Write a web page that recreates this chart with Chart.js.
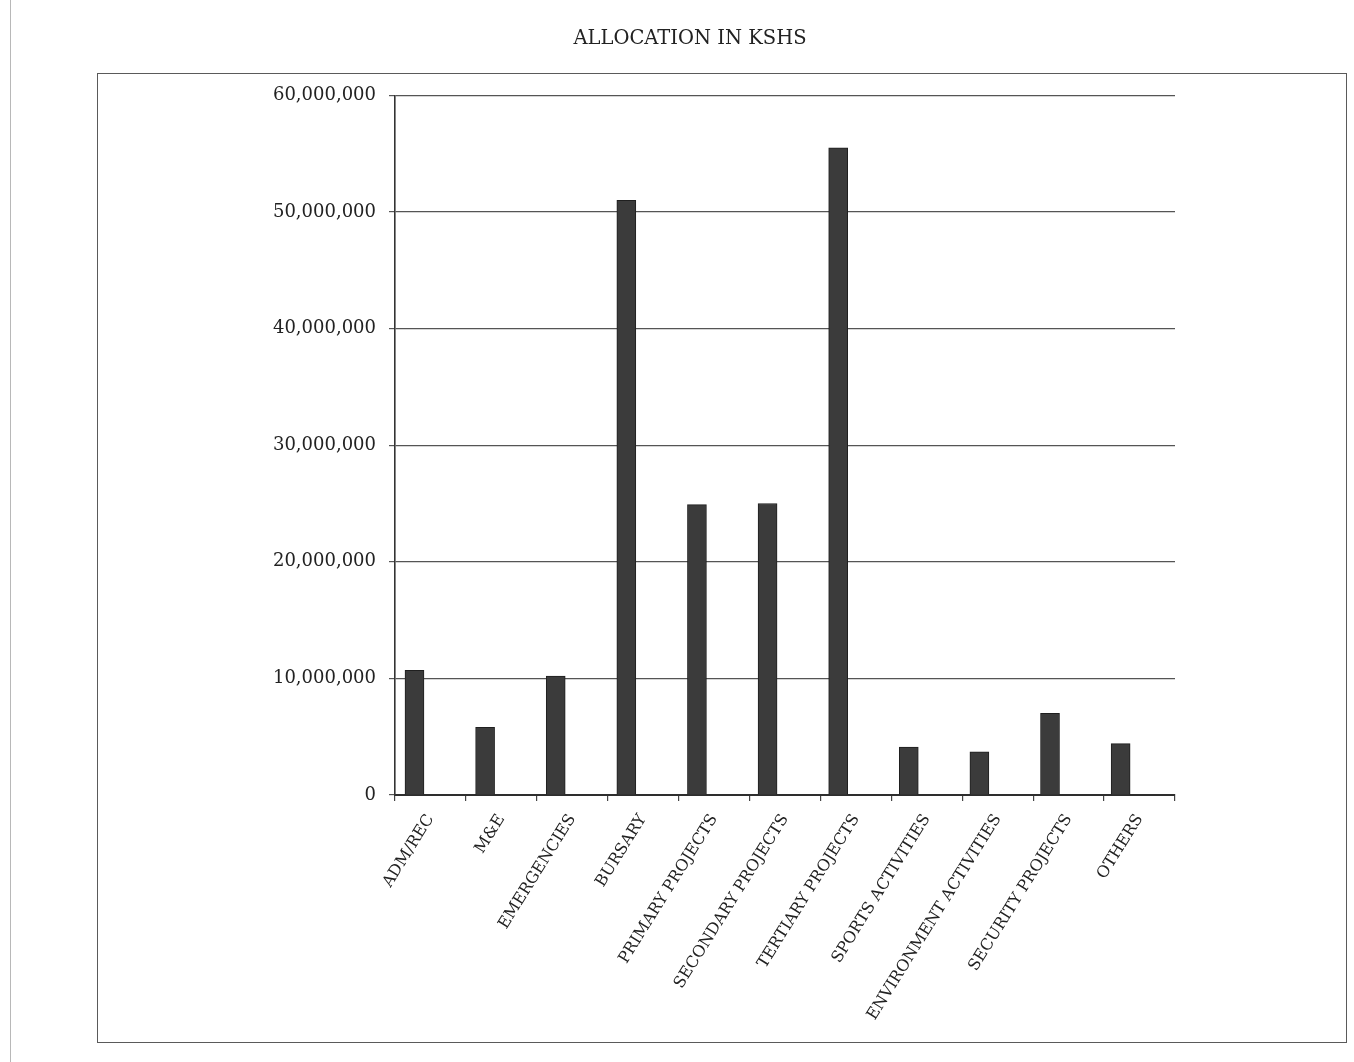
<!DOCTYPE html>
<html>
<head>
<meta charset="utf-8">
<script src="https://cdn.jsdelivr.net/npm/chart.js@4.4.1/dist/chart.umd.min.js"></script>
<style>
  html, body { margin: 0; padding: 0; background: #fff; overflow: hidden; }
  #wrap { position: relative; width: 1354px; height: 1062px; }
  #frame { position: absolute; left: 97px; top: 73px; width: 1248px; height: 968px; border: 1.5px solid #5a5a5a; }
  #edge { position: absolute; left: 10px; top: 0; width: 0; height: 1062px; border-left: 1px solid #b8b8b8; }
  canvas { position: absolute; left: 0; top: 0; }
</style>
</head>
<body>
<div id="wrap">
  <div id="edge"></div>
  <div id="frame"></div>
  <canvas id="c" width="1354" height="1062"></canvas>
</div>
<script>
const categories = ["ADM/REC", "M&E", "EMERGENCIES", "BURSARY", "PRIMARY PROJECTS", "SECONDARY PROJECTS", "TERTIARY PROJECTS", "SPORTS ACTIVITIES", "ENVIRONMENT ACTIVITIES", "SECURITY PROJECTS", "OTHERS"];
const allocation = [10700000, 5800000, 10200000, 51000000, 24900000, 25000000, 55500000, 4100000, 3700000, 7000000, 4400000];
const titleText = "ALLOCATION IN KSHS";
const yMin = 0, yMax = 60000000, yStep = 10000000;

const points = allocation.map((v, i) => ({ x: i, y: v }));

new Chart(document.getElementById('c'), {
  type: 'bar',
  data: {
    labels: categories,
    datasets: [{
      label: titleText,
      data: points,
      xAxisID: 'xb',
      backgroundColor: '#3b3b3b',
      borderColor: '#1f1f1f',
      borderWidth: 1,
      barThickness: 19
    }]
  },
  options: {
    responsive: false,
    devicePixelRatio: 1,
    animation: false,
    layout: { padding: { left: 205, right: 179, top: 0, bottom: 0 } },
    plugins: {
      legend: { display: false },
      tooltip: { enabled: false },
      title: {
        display: true,
        text: titleText,
        color: '#222',
        font: { family: 'DejaVu Serif', size: 19.5, weight: 'normal' },
        padding: { top: 27, bottom: 45 }
      }
    },
    scales: {
      xb: {
        type: 'linear',
        position: 'bottom',
        display: false,
        offset: false,
        grid: { offset: false },
        min: -0.276,
        max: 10.77
      },
      x: {
        type: 'category',
        position: 'bottom',
        offset: true,
        grid: { offset: true, drawOnChartArea: false, drawTicks: true, tickLength: 6, color: '#444', lineWidth: 1.2 },
        border: { display: true, color: '#2e2e2e', width: 2 },
        ticks: {
          autoSkip: false,
          minRotation: 58,
          maxRotation: 58,
          padding: 10,
          color: '#222',
          font: { family: 'DejaVu Serif', size: 16 }
        },
        afterFit: (s) => { s.height = 267; }
      },
      y: {
        type: 'linear',
        min: yMin,
        max: yMax,
        grid: { color: '#555', lineWidth: 1.2, tickLength: 6, drawTicks: true },
        border: { display: true, color: '#333', width: 1.6 },
        ticks: {
          stepSize: yStep,
          padding: 13,
          color: '#222',
          font: { family: 'DejaVu Serif', size: 18 },
          callback: (v) => Number(v).toLocaleString('en-US')
        },
        afterFit: (s) => { s.width = 190; }
      }
    }
  }
});
</script>
</body>
</html>
